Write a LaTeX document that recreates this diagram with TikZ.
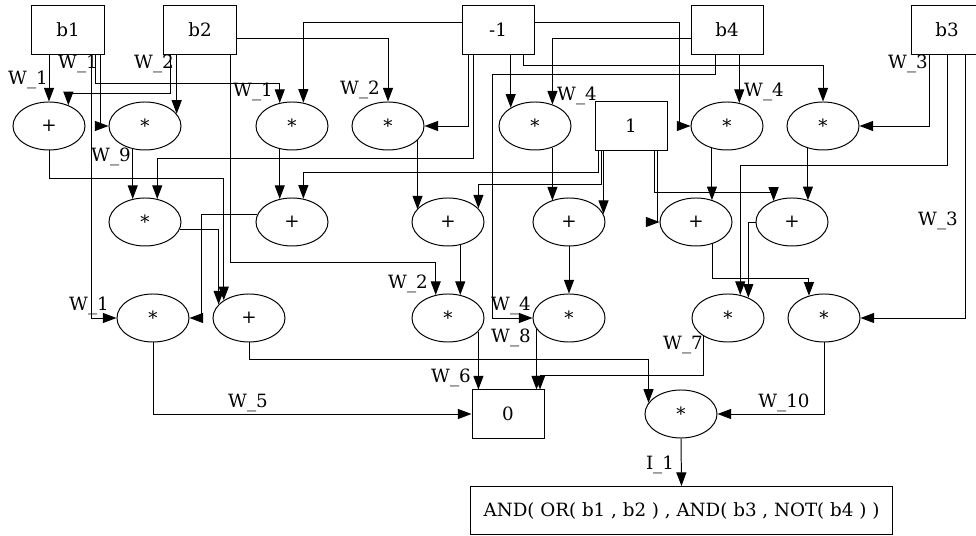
\documentclass[tikz,border=0pt]{standalone}
\usepackage{fontspec}
\setmainfont{DejaVu Serif}
\usetikzlibrary{arrows.meta, shapes.geometric}

\begin{document}
\begin{tikzpicture}[x=0.025cm, y=-0.025cm, line width=0.7pt,
    >={Triangle[length=3.4mm, width=2.5mm]},
    every node/.style={font=\fontsize{13}{15}\selectfont},
    box/.style={draw, rectangle, minimum width=1.8cm, minimum height=1.2cm, inner sep=0pt},
    opnode/.style={draw, ellipse, minimum width=1.8cm, minimum height=1.2cm, inner sep=0pt},
    wire/.style={->},
    wlab/.style={inner sep=0pt}]
  \useasboundingbox (0,0) rectangle (976,536);

  % Eingaenge
  \node[box] (b1) at (68,30) {b1};
  \node[box] (b2) at (200,30) {b2};
  \node[box] (m1) at (498,30) {-1};
  \node[box] (b4) at (727,30) {b4};
  \node[box] (b3) at (947,30) {b3};
  \node[box] (one) at (631,126) {1};

  % erste Reihe
  \node[opnode] (a1) at (49,126) {+};
  \node[opnode] (a2) at (145,126) {*};
  \node[opnode] (a3) at (292,126) {*};
  \node[opnode] (a4) at (388,126) {*};
  \node[opnode] (a5) at (535,126) {*};
  \node[opnode] (a6) at (727,126) {*};
  \node[opnode] (a7) at (823,126) {*};

  % zweite Reihe
  \node[opnode] (c1) at (145,222) {*};
  \node[opnode] (c2) at (292,222) {+};
  \node[opnode] (c3) at (448,222) {+};
  \node[opnode] (c4) at (569,222) {+};
  \node[opnode] (c5) at (696,222) {+};
  \node[opnode] (c6) at (792,222) {+};

  % dritte Reihe
  \node[opnode] (d1) at (153,318) {*};
  \node[opnode] (d2) at (249,318) {+};
  \node[opnode] (d3) at (448,318) {*};
  \node[opnode] (d4) at (569,318) {*};
  \node[opnode] (d5) at (728,318) {*};
  \node[opnode] (d6) at (824,318) {*};

  % Ausgang
  \node[box] (zero) at (508,414) {0};
  \node[opnode] (f) at (681,414) {*};
  \node[box, minimum width=10.525cm] (out) at (681.5,510.5) {AND( OR( b1 , b2 ) , AND( b3 , NOT( b4 ) )};

  % von b1
  \draw[wire] (b1.south -| 49,0) -- (a1.north);
  \draw[wire] (b1.south -| 100,0) |- (a2.west);
  \draw[wire] (b1.south -| 95,0) -- (95,83) -| (a3.118);
  \draw[wire] (b1.south -| 91,0) |- (d1.west);

  % von b2
  \draw[wire] (b2.south -| 170,0) -- (170,93) -| (a1.47);
  \draw[wire] (b2.south -| a2.21) -- (a2.21);
  \draw[wire] (b2.east |- 0,38) -| (a4.north);
  \draw[wire] (b2.south -| 230,0) -- (230,262) -| (d3.118);

  % von -1
  \draw[wire] (m1.west |- 0,22) -| (a3.64);
  \draw[wire] (m1.south -| 468,0) |- (a4.east);
  \draw[wire] (m1.south -| 473,0) -- (473,158) -| (c1.62);
  \draw[wire] (m1.south -| a5.143) -- (a5.143);
  \draw[wire] (m1.south -| 523,0) -- (523,65) -| (a7.north);
  \draw[wire] (m1.east |- 0,22) -- (679,22) |- (a6.west);

  % von b4
  \draw[wire] (b4.west |- 0,38) -| (a5.51);
  \draw[wire] (b4.south -| a6.62) -- (a6.62);
  \draw[wire] (b4.south -| 715,0) |- (492,74) |- (d4.west);

  % von b3
  \draw[wire] (b3.south -| 929,0) |- (a7.east);
  \draw[wire] (b3.south -| 947,0) -- (947,165) -| (d5.62);
  \draw[wire] (b3.south -| 965,0) |- (d6.east);

  % von 1
  \draw[wire] (one.south -| 598,0) -- (598,172) -| (c2.64);
  \draw[wire] (one.south -| 601,0) -- (601,184) -| (c3.24);
  \draw[wire] (one.south -| c4.13) -- (c4.13);
  \draw[wire] (one.south -| 654,0) -- (654,192) -| (c6.131);
  \draw[wire] (one.south -| 657,0) |- (c5.west);

  % erste -> zweite Reihe
  \draw[wire] (a1.south) -- (49,178) -| (d2.145);
  \draw[wire] (a2.242) -- (a2.242 |- c1.118);
  \draw[wire] (a3.242) -- (a3.242 |- c2.118);
  \draw[wire] (a4.-26) -- (a4.-26 |- c3.158);
  \draw[wire] (a5.-51) -- (a5.-51 |- c4.129);
  \draw[wire] (a6.-124) -- (a6.-124 |- c5.53);
  \draw[wire] (a7.-124) -- (a7.-124 |- c6.53);

  % zweite -> dritte Reihe
  \draw[wire] (c1.-13) -| (d2.156);
  \draw[wire] (c2.167) -| (201,318) -- (d1.east);
  \draw[wire] (c3.-62) -- (c3.-62 |- d3.62);
  \draw[wire] (c4.south) -- (d4.north);
  \draw[wire] (c5.-53) -- (c5.-53 |- 0,278) -| (d6.124);
  \draw[wire] (c6.west) -| (d5.45);

  % dritte Reihe -> Ausgang
  \draw[wire] (d1.south) |- (zero.west);
  \draw[wire] (d2.south) -- (249,359) -| (f.161);
  \draw[wire] (d3.-24) -- (d3.-24 |- zero.north);
  \draw[wire] (d4.199) -- (d4.199 |- zero.north);
  \draw[wire] (d5.-143) -- (d5.-143 |- 0,375) -| (zero.north -| 540,0);
  \draw[wire] (d6.south) |- (f.east);
  \draw[wire] (f.south) -- (out.north);

  % Gewichte
  \node[wlab] (w1a) at (28,80) {W\_1};
  \node[wlab] (w1b) at (78,64) {W\_1};
  \node[wlab] (w2a) at (154,64) {W\_2};
  \node[wlab] (w1c) at (253,92) {W\_1};
  \node[wlab] (w2b) at (360,90) {W\_2};
  \node[wlab] (w4a) at (577,96) {W\_4};
  \node[wlab] (w4b) at (764,92) {W\_4};
  \node[wlab] (w3a) at (908,64) {W\_3};
  \node[wlab] (w9) at (111,157) {W\_9};
  \node[wlab] (w3b) at (938,221) {W\_3};
  \node[wlab] (w1d) at (89,306) {W\_1};
  \node[wlab] (w2c) at (408,284) {W\_2};
  \node[wlab] (w4c) at (511,306) {W\_4};
  \node[wlab] (w8) at (511,338) {W\_8};
  \node[wlab] (w7) at (683,345) {W\_7};
  \node[wlab] (w6) at (451,378) {W\_6};
  \node[wlab] (w5) at (248,403) {W\_5};
  \node[wlab] (w10) at (784,403) {W\_10};
  \node[wlab] (i1) at (660,465) {I\_1};
\end{tikzpicture}
\end{document}
